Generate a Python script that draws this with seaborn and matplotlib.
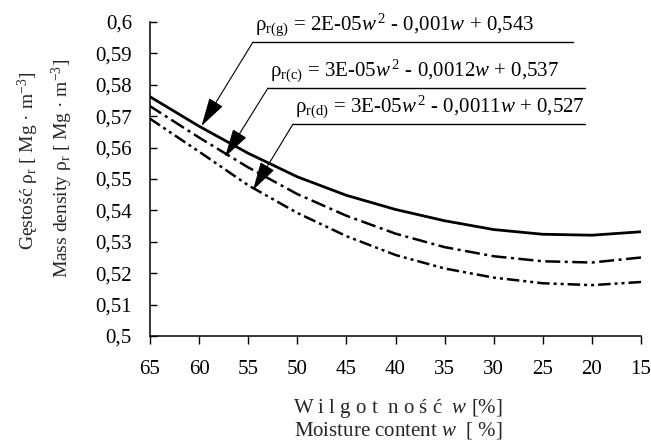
import matplotlib
matplotlib.use("Agg")
import matplotlib.pyplot as plt
import seaborn as sns
import pandas as pd

# moisture content w [%]
moisture = [65, 60, 55, 50, 45, 40, 35, 30, 25, 20, 15]
# mass density values
rho_g = [0.5762, 0.5668, 0.5582, 0.5507, 0.5448, 0.5403, 0.5367, 0.5339, 0.5324, 0.5321, 0.5332]
rho_c = [0.5732, 0.5632, 0.5537, 0.5452, 0.5383, 0.5326, 0.5283, 0.5254, 0.5238, 0.5234, 0.5250]
rho_d = [0.5692, 0.5587, 0.5480, 0.5392, 0.5318, 0.5258, 0.5215, 0.5186, 0.5168, 0.5162, 0.5172]

x_ticks = [65, 60, 55, 50, 45, 40, 35, 30, 25, 20, 15]
y_ticks = [0.5, 0.51, 0.52, 0.53, 0.54, 0.55, 0.56, 0.57, 0.58, 0.59, 0.6]
y_tick_labels = ["0,5", "0,51", "0,52", "0,53", "0,54", "0,55", "0,56", "0,57", "0,58", "0,59", "0,6"]

eq_g = r"ρ$_{\mathrm{r(g)}}$ = 2E-05$\mathit{w}^{\,2}$ - 0,001$\mathit{w}$ + 0,543"
eq_c = r"ρ$_{\mathrm{r(c)}}$ = 3E-05$\mathit{w}^{\,2}$ - 0,0012$\mathit{w}$ + 0,537"
eq_d = r"ρ$_{\mathrm{r(d)}}$ = 3E-05$\mathit{w}^{\,2}$ - 0,0011$\mathit{w}$ + 0,527"

sns.set_style("ticks")
plt.rcParams["font.family"] = ["Liberation Serif", "DejaVu Serif"]
plt.rcParams["mathtext.fontset"] = "custom"
plt.rcParams["mathtext.rm"] = "Liberation Serif"
plt.rcParams["mathtext.it"] = "Liberation Serif:italic"
plt.rcParams["mathtext.bf"] = "Liberation Serif:bold"

df = pd.DataFrame({"w": moisture, "g": rho_g, "c": rho_c, "d": rho_d})

fig = plt.figure(figsize=(6.51, 4.40), dpi=100)
ax = fig.add_axes([150/651, 1-336/440, (641-150)/651, (336-22)/440])

sns.lineplot(data=df, x="w", y="g", ax=ax, color="black", lw=2.0, linestyle="-")
sns.lineplot(data=df, x="w", y="c", ax=ax, color="black", lw=1.8, linestyle=(0, (6, 1.8, 1.2, 1.8)))
sns.lineplot(data=df, x="w", y="d", ax=ax, color="black", lw=1.8, linestyle=(0, (5, 1.6, 1.2, 1.6, 1.2, 1.6)))

ax.set_xlim(65, 15)
ax.set_ylim(0.5, 0.6)
ax.set_xticks(x_ticks)
ax.set_xticklabels([str(v) for v in x_ticks])
ax.set_yticks(y_ticks)
ax.set_yticklabels(y_tick_labels)
ax.set_xlabel("")
ax.set_ylabel("")
for s in ["top", "right"]:
    ax.spines[s].set_visible(False)
for s in ["left", "bottom"]:
    ax.spines[s].set_linewidth(1.1)
    ax.spines[s].set_color("black")
ax.tick_params(axis="y", direction="in", length=5, width=1.0, pad=13, labelsize=15, colors="black")
ax.tick_params(axis="x", direction="out", length=6, width=1.0, pad=11, labelsize=15, colors="black")

H = 440

def fx(px):
    return px / 651

def fy(py):
    return 1 - py / H

annots = [
    (eq_g, 253, 42, 573, 201.5, 126),
    (eq_c, 268, 88, 585, 225, 157),
    (eq_d, 293, 124, 585, 253, 190),
]
for txt, x0, yl, x1, tx, ty in annots:
    fig.text(fx(x0 + 2), fy(yl - 3), txt, fontsize=15, ha="left", va="bottom", color="black")
    fig.add_artist(plt.Line2D([fx(x0), fx(x1)], [fy(yl), fy(yl)], transform=fig.transFigure,
                              color="black", lw=1.0))
    ax.annotate("", xy=(tx, H - ty), xycoords="figure pixels",
                xytext=(x0, H - yl), textcoords="figure pixels",
                arrowprops=dict(arrowstyle="-|>,head_length=0.9,head_width=0.25",
                                mutation_scale=20, lw=0.8, color="black",
                                shrinkA=0, shrinkB=0))

# y labels
fig.text(28/651, fy(161), r"Gęstość ρ$_{\mathrm{r}}$ [ Mg · m$^{-3}$]", rotation=90,
         ha="center", va="center", fontsize=14)
fig.text(62/651, fy(168), r"Mass density ρ$_{\mathrm{r}}$ [ Mg · m$^{-3}$]", rotation=90,
         ha="center", va="center", fontsize=14)
# x labels
fig.text(398/651, fy(408), r"W i l g o t  n o ś ć  $\mathit{w}$ [%]", ha="center", va="center", fontsize=15)
fig.text(398/651, fy(430), r"Moisture content $\mathit{w}$  [ %]", ha="center", va="center", fontsize=15)

fig.savefig("out.png", dpi=100)
